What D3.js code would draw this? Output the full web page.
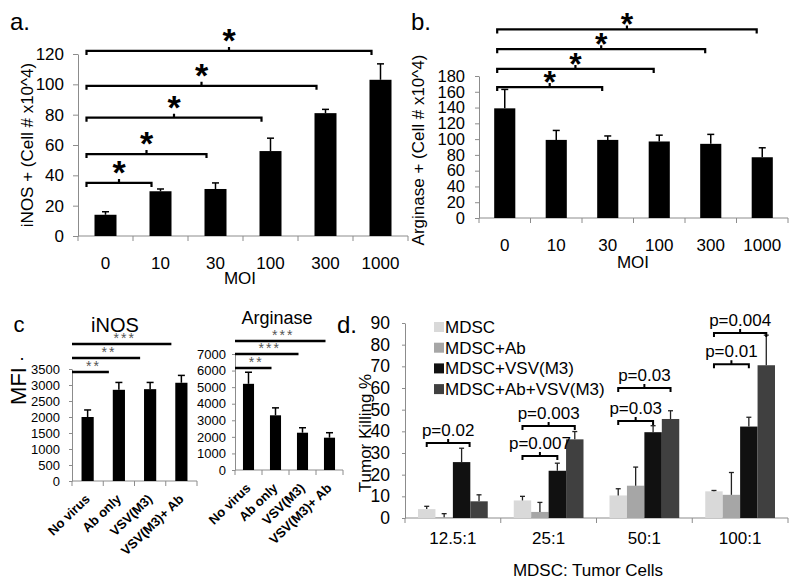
<!DOCTYPE html>
<html><head><meta charset="utf-8">
<script src="https://cdn.jsdelivr.net/npm/d3@7"></script>
<style>body{margin:0;background:#fff} svg{display:block}</style>
</head><body><svg width="800" height="588"></svg>
<script>
// ---------- DATA ----------
const moi = ["0", "10", "30", "100", "300", "1000"];
const inosCells = [14, 29.5, 31, 56, 81, 103];
const inosCellsErr = [2, 1.5, 4, 8.5, 2.5, 10.5];
const inosTicks = [0, 20, 40, 60, 80, 100, 120];
const inosSigTargets = [1, 2, 3, 4, 5];
const inosSigLevels = [35, 54, 78, 99, 122];

const argCells = [139, 99, 99, 97, 94, 77];
const argCellsErr = [24, 12, 5, 8, 12, 12];
const argTicks = [0, 20, 40, 60, 80, 100, 120, 140, 160, 180];
const argSigTargets = [2, 3, 4, 5];
const argSigLevels = [166, 189, 214, 239];

const treatments = ["No virus", "Ab only", "VSV(M3)", "VSV(M3)+ Ab"];
const mfiInos = [2000, 2850, 2870, 3070];
const mfiInosErr = [220, 230, 210, 230];
const mfiInosTicks = [0, 500, 1000, 1500, 2000, 2500, 3000, 3500];
const mfiInosSig = ["**", "**", "***"];
const mfiInosSigTargets = [1, 2, 3];
const mfiInosSigLevels = [3406, 3844, 4281];

const mfiArg = [5200, 3300, 2250, 1950];
const mfiArgErr = [700, 450, 300, 300];
const mfiArgTicks = [0, 1000, 2000, 3000, 4000, 5000, 6000, 7000];
const mfiArgSig = ["**", "***", "***"];
const mfiArgSigTargets = [1, 2, 3];
const mfiArgSigLevels = [6155, 7000, 7785];

const ratios = ["12.5:1", "25:1", "50:1", "100:1"];
const seriesNames = ["MDSC", "MDSC+Ab", "MDSC+VSV(M3)", "MDSC+Ab+VSV(M3)"];
const killMDSC = [4.1, 8.1, 10.4, 12.3];
const killMDSCErr = [1.3, 1.9, 3.1, 0.4];
const killAb = [0.3, 2.8, 14.9, 10.7];
const killAbErr = [1.7, 4.4, 8.6, 10.3];
const killVSV = [25.8, 21.8, 39.6, 42.2];
const killVSVErr = [6.4, 3.5, 3.0, 4.3];
const killAbVSV = [7.7, 36.3, 45.7, 70.5];
const killAbVSVErr = [3.0, 3.6, 3.8, 13.9];
const killTicks = [0, 10, 20, 30, 40, 50, 60, 70, 80, 90];
const seriesColors = ["#d9d9d9", "#a6a6a6", "#111111", "#404040"];
const pGroups = [0, 1, 1, 2, 2, 3, 3];
const pTargets = [2, 2, 3, 2, 3, 2, 3];
const pLevels = [34.6, 28.6, 42.5, 44.8, 60, 71, 85.4];
const pLabels = ["p=0.02", "p=0.007", "p=0.003", "p=0.03", "p=0.03", "p=0.01", "p=0.004"];

// ---------- DRAWING ----------
const FONT = '"Liberation Sans", Arial, sans-serif';
const AX = "#8c8c8c";
const svg = d3.select("svg");

function txt(x, y, s, size, opts = {}) {
  const t = svg.append("text").attr("x", x).attr("y", y).text(s)
    .attr("font-family", FONT).attr("font-size", size).attr("fill", opts.fill || "#000")
    .attr("text-anchor", opts.anchor || "middle");
  if (opts.weight) t.attr("font-weight", opts.weight);
  if (opts.rotate) t.attr("transform", `rotate(${opts.rotate},${x},${y})`);
  if (opts.dy) t.attr("dy", opts.dy);
  if (opts.ls) t.attr("letter-spacing", opts.ls);
  return t;
}

function axes(o, x, y) {
  const g = svg.append("g");
  const ya = g.append("g").attr("transform", `translate(${o.left},0)`)
    .call(d3.axisLeft(y).tickValues(o.ticks).tickFormat(d3.format("d")).tickSize(o.tickSize).tickSizeOuter(0).tickPadding(o.tickPad));
  ya.select(".domain").attr("stroke", AX);
  ya.selectAll(".tick line").attr("stroke", AX);
  ya.selectAll(".tick text").attr("font-size", o.tickFont).attr("fill", "#000").attr("font-family", FONT);
  g.append("line").attr("x1", o.left).attr("x2", o.right).attr("y1", o.bottom).attr("y2", o.bottom).attr("stroke", AX);
  g.selectAll(".xt").data(d3.range(o.cats.length + 1)).join("line")
    .attr("x1", i => o.left + i * x.step()).attr("x2", i => o.left + i * x.step())
    .attr("y1", o.bottom).attr("y2", o.bottom + 5).attr("stroke", AX);
  return g;
}

function barPanel(o) {
  const x = d3.scaleBand().domain(o.cats).range([o.left, o.right]).paddingInner(o.pad).paddingOuter(o.pad / 2);
  const y = d3.scaleLinear().domain([0, o.max]).range([o.bottom, o.top]);
  axes(o, x, y);
  const bw = x.bandwidth();
  const g = svg.append("g");
  g.selectAll("rect").data(o.vals).join("rect")
    .attr("x", (d, i) => x(o.cats[i])).attr("width", bw)
    .attr("y", d => y(d)).attr("height", d => o.bottom - y(d)).attr("fill", "#000");
  o.vals.forEach((v, i) => {
    const cx = x(o.cats[i]) + bw / 2;
    g.append("line").attr("x1", cx).attr("x2", cx).attr("y1", y(v)).attr("y2", y(v + o.errs[i])).attr("stroke", "#000").attr("stroke-width", 1.5);
    g.append("line").attr("x1", cx - 3.5).attr("x2", cx + 3.5).attr("y1", y(v + o.errs[i])).attr("y2", y(v + o.errs[i])).attr("stroke", "#000").attr("stroke-width", 1.5);
  });
  if (o.rotLabels) {
    o.cats.forEach((c, i) => {
      const cx = x(c) + bw / 2 + 3;
      txt(cx, o.bottom + 19, c, 13, { anchor: "end", weight: "bold", rotate: -44 });
    });
  } else {
    o.cats.forEach((c, i) => txt(x(c) + bw / 2, o.labelY, c, o.labelFont));
  }
  return { x, y, bw };
}

function bracket(x1, x2, yy, sw) {
  const p = d3.path();
  p.moveTo(x1, yy + 4); p.lineTo(x1, yy); p.lineTo(x2, yy); p.lineTo(x2, yy + 4);
  const m = (x1 + x2) / 2;
  p.moveTo(m, yy); p.lineTo(m, yy - 4);
  svg.append("path").attr("d", p.toString()).attr("fill", "none").attr("stroke", "#000").attr("stroke-width", sw || 2.2);
}

// Panel a
const pa = barPanel({ cats: moi, vals: inosCells, errs: inosCellsErr, left: 78, right: 408, pad: 0.6,
  bottom: 236, top: 54, max: 120, ticks: inosTicks, tickSize: 5, tickPad: 9, tickFont: 17, labelY: 269, labelFont: 17 });
inosSigTargets.forEach((t, k) => {
  const x1 = pa.x(moi[0]) - 8, x2 = pa.x(moi[t]) + 2, yy = pa.y(inosSigLevels[k]);
  bracket(x1, x2, yy);
  txt((x1 + x2) / 2, yy + 1, "*", 34, { weight: "bold" });
});
txt(240, 284, "MOI", 17);
txt(27, 145, "iNOS + (Cell # x10^4)", 17, { rotate: -90, dy: "0.35em" });
txt(10, 30, "a.", 24, { anchor: "start" });

// Panel b
const pb = barPanel({ cats: moi, vals: argCells, errs: argCellsErr, left: 479, right: 788, pad: 0.59,
  bottom: 218, top: 76, max: 180, ticks: argTicks, tickSize: 4, tickPad: 10, tickFont: 16.5, labelY: 251, labelFont: 17 });
argSigTargets.forEach((t, k) => {
  const x1 = pb.x(moi[0]) + 3, x2 = pb.x(moi[t]) + 5, yy = pb.y(argSigLevels[k]);
  bracket(x1, x2, yy);
  txt((x1 + x2) / 2, yy + 6, "*", 32, { weight: "bold" });
});
txt(633, 268, "MOI", 17);
txt(418, 150, "Arginase + (Cell # x10^4)", 17, { rotate: -90, dy: "0.35em" });
txt(411, 30, "b.", 24, { anchor: "start" });

// Panel c - iNOS
const pc1 = barPanel({ cats: treatments, vals: mfiInos, errs: mfiInosErr, left: 72, right: 197, pad: 0.61,
  bottom: 481, top: 369, max: 3500, ticks: mfiInosTicks, tickSize: 3, tickPad: 9, tickFont: 13, rotLabels: true });
mfiInosSigTargets.forEach((t, k) => {
  const x2 = pc1.x(treatments[t]) + pc1.bw / 2 - 10, yy = pc1.y(mfiInosSigLevels[k]);
  svg.append("line").attr("x1", 72).attr("x2", x2).attr("y1", yy).attr("y2", yy).attr("stroke", "#000").attr("stroke-width", 2.5);
  txt((72 + x2) / 2 + 3, yy - 1, mfiInosSig[k], 14, { fill: "#555", ls: 2 });
});
txt(115, 332, "iNOS", 20);
txt(19, 332, "c", 22);
txt(22, 360, ".", 18);
txt(18, 386, "MFI", 22, { rotate: -90, dy: "0.35em" });

// Panel c - Arginase
const pc2 = barPanel({ cats: treatments, vals: mfiArg, errs: mfiArgErr, left: 235, right: 343, pad: 0.59,
  bottom: 470, top: 354, max: 7000, ticks: mfiArgTicks, tickSize: 3, tickPad: 6, tickFont: 13, rotLabels: true });
mfiArgSigTargets.forEach((t, k) => {
  const x2 = pc2.x(treatments[t]) + pc2.bw / 2 - 4, yy = pc2.y(mfiArgSigLevels[k]);
  svg.append("line").attr("x1", 235).attr("x2", x2).attr("y1", yy).attr("y2", yy).attr("stroke", "#000").attr("stroke-width", 2.5);
  txt((235 + x2) / 2 + 3, yy - 1, mfiArgSig[k], 14, { fill: "#555", ls: 2 });
});
txt(277, 324, "Arginase", 18);

// Panel d
const dOpt = { cats: ratios, left: 405, right: 788, bottom: 518, top: 323, max: 90, ticks: killTicks, tickSize: 3, tickPad: 12, tickFont: 17.5 };
const dx0 = d3.scaleBand().domain(ratios).range([dOpt.left, dOpt.right]);
const dy = d3.scaleLinear().domain([0, 90]).range([dOpt.bottom, dOpt.top]);
axes(dOpt, dx0, dy);
const dx1 = d3.scaleBand().domain(d3.range(4)).range([13, dx0.bandwidth() - 13]);
const killVals = [killMDSC, killAb, killVSV, killAbVSV];
const killErrs = [killMDSCErr, killAbErr, killVSVErr, killAbVSVErr];
killVals.forEach((vals, s) => {
  vals.forEach((v, gi) => {
    const bx = dx0(ratios[gi]) + dx1(s);
    svg.append("rect").attr("x", bx).attr("width", dx1.bandwidth()).attr("y", dy(v)).attr("height", dOpt.bottom - dy(v)).attr("fill", seriesColors[s]);
    const cx = bx + dx1.bandwidth() / 2, ye = dy(v + killErrs[s][gi]);
    svg.append("line").attr("x1", cx).attr("x2", cx).attr("y1", dy(v)).attr("y2", ye).attr("stroke", "#222").attr("stroke-width", 1.3);
    svg.append("line").attr("x1", cx - 2.5).attr("x2", cx + 2.5).attr("y1", ye).attr("y2", ye).attr("stroke", "#222").attr("stroke-width", 1.3);
  });
});
pGroups.forEach((gi, k) => {
  const base = dx0(ratios[gi]);
  const x1 = base + dx1(0) + dx1.bandwidth() / 2;
  const x2 = base + dx1(pTargets[k]) + dx1.bandwidth() / 2 + (k === 0 ? 8 : 0);
  const yy = dy(pLevels[k]);
  bracket(x1, x2, yy, 2);
  txt((x1 + x2) / 2, yy - 7, pLabels[k], 17);
});
ratios.forEach(r => txt(dx0(r) + dx0.bandwidth() / 2, 544, r, 17));
txt(588, 576, "MDSC: Tumor Cells", 17);
txt(365, 433, "Tumor Killing %", 17, { rotate: -90, dy: "0.35em" });
txt(347, 333, "d.", 24);
seriesNames.forEach((n, s) => {
  const yy = 327 + s * 20.7;
  svg.append("rect").attr("x", 434).attr("y", yy - 5).attr("width", 10).attr("height", 10).attr("fill", seriesColors[s]);
  txt(445, yy + 6, n, 17, { anchor: "start" });
});
</script></body></html>
